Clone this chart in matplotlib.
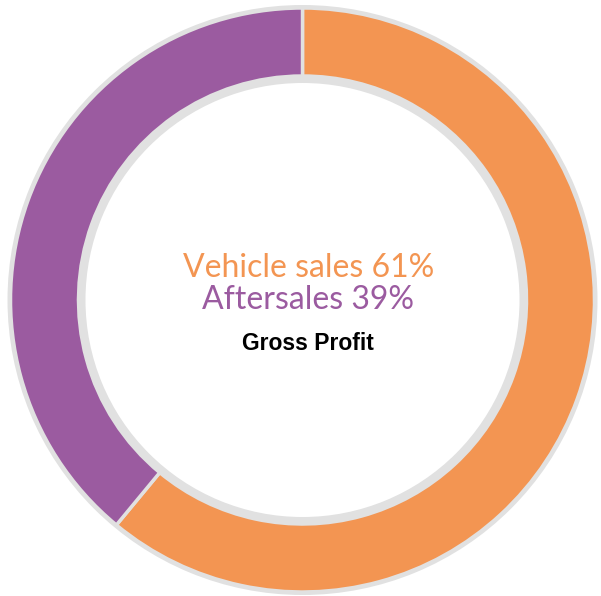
import matplotlib
matplotlib.use("Agg")
import matplotlib.pyplot as plt

# Data
segments = ["Vehicle sales", "Aftersales"]
shares = [61, 39]
colors = ["#F39552", "#9B5BA0"]
title = "Gross Profit"

W, H = 601, 596
cx, cy = 302.5, H - 300
r_out = 292
ring = 68

fig = plt.figure(figsize=(W / 100, H / 100), dpi=100)
ax = fig.add_axes([0, 0, 1, 1])

# grey backing ring (shows as outline and inner band)
ax.pie([1], radius=r_out + 3, center=(cx, cy), colors=["#E1E1E1"],
       wedgeprops=dict(width=ring + 10, linewidth=0))

ax.pie(shares, radius=r_out, center=(cx, cy), colors=colors,
       startangle=90, counterclock=False,
       wedgeprops=dict(width=ring, edgecolor="#E1E1E1", linewidth=2.5))

ax.set_xlim(0, W)
ax.set_ylim(0, H)
ax.set_aspect("equal")
ax.axis("off")

font = ["Lato", "DejaVu Sans"]
ax.text(cx + 6, H - 268, f"{segments[0]} {shares[0]}%", color=colors[0],
        fontsize=23, family=font, weight="normal",
        ha="center", va="center")
ax.text(cx + 6, H - 300, f"{segments[1]} {shares[1]}%", color=colors[1],
        fontsize=23, family=font, weight="normal",
        ha="center", va="center")
ax.text(cx + 5, H - 343, title, color="black", fontsize=16.5,
        family=["Liberation Sans", "DejaVu Sans"], weight="bold",
        ha="center", va="center")

fig.savefig("out.png", dpi=100)
